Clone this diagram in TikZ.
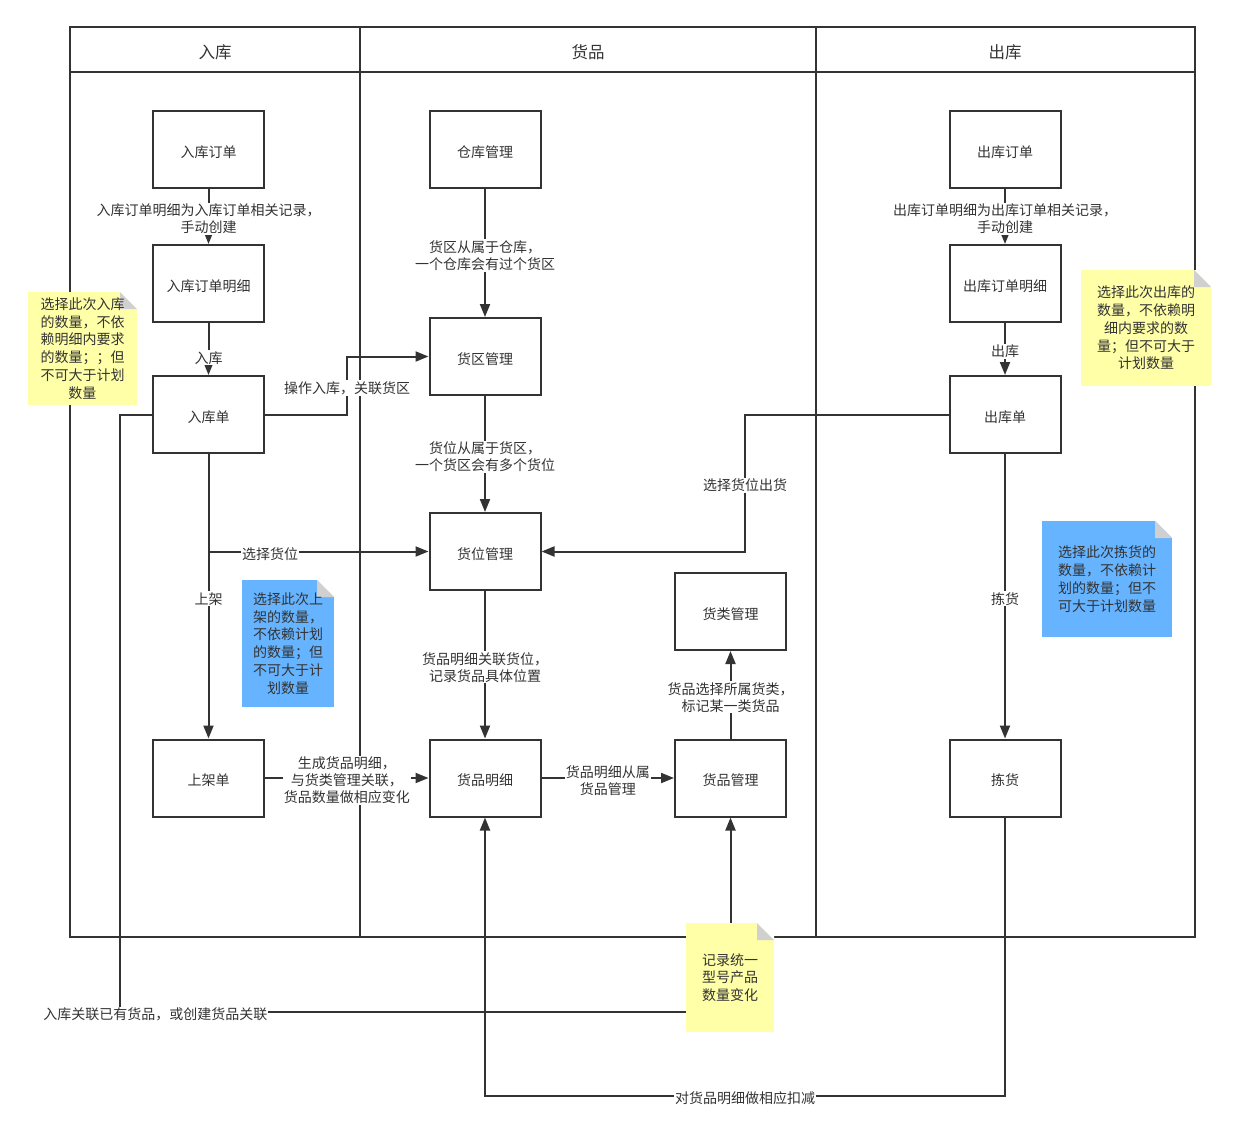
\documentclass[tikz,border=0pt]{standalone}
\usepackage{fontspec}
\setmainfont{Noto Sans CJK SC}
\usetikzlibrary{arrows.meta}

\definecolor{ink}{HTML}{333333}
\definecolor{noteyellow}{HTML}{FFFFA8}
\definecolor{noteblue}{HTML}{66B3FF}
\definecolor{foldgray}{HTML}{D0D0D0}

\begin{document}
\begin{tikzpicture}[x=1pt, y=-1pt, line width=2pt, color=ink,
    >={Triangle[length=13pt,width=10pt]},
    box/.style={draw, rectangle, minimum width=111pt, minimum height=77pt,
                text height=17pt, text depth=2pt,
                font=\fontsize{14}{17}\selectfont},
    lbl/.style={fill=white, align=center, inner sep=1pt, yshift=-2.5pt,
                font=\fontsize{14}{17}\selectfont},
    lanehead/.style={font=\fontsize{16.5}{20}\selectfont},
    note/.style={rectangle, align=center, inner sep=0pt,
                font=\fontsize{14}{17.8}\selectfont,
                path picture={
                  \fill[white] (path picture bounding box.north east) -- ++(-17pt,0) -- ++(17pt,-17pt) -- cycle;
                  \fill[foldgray] ([xshift=-17pt]path picture bounding box.north east) -- ++(0,-17pt) -- ++(17pt,0) -- cycle;}},
    yellownote/.style={note, fill=noteyellow},
    bluenote/.style={note, fill=noteblue}]

    \useasboundingbox (0,0) rectangle (1239,1124);

    % lanes
    \draw (70,27) rectangle (1195,937);
    \draw (70,72) -- (1195,72);
    \draw (360,27) -- (360,937);
    \draw (816,27) -- (816,937);
    \node [lanehead] (hrk) at (215,52.5) {入库};
    \node [lanehead] (hhp) at (588,52.5) {货品};
    \node [lanehead] (hck) at (1005,52.5) {出库};

    % boxes
    \node [box] (rkdd)   at (208.5,149.5) {入库订单};
    \node [box] (rkddmx) at (208.5,283.5) {入库订单明细};
    \node [box] (rkd)    at (208.5,414.5) {入库单};
    \node [box] (sjd)    at (208.5,778)   {上架单};
    \node [box] (ckgl)   at (485,149.5)   {仓库管理};
    \node [box] (hqgl)   at (485,356.5)   {货区管理};
    \node [box] (hwgl)   at (485,551.5)   {货位管理};
    \node [box] (hpmx)   at (485,778)     {货品明细};
    \node [box] (hlgl)   at (730.5,611.5) {货类管理};
    \node [box] (hpgl)   at (730.5,778)   {货品管理};
    \node [box] (ckdd)   at (1005,149.5)  {出库订单};
    \node [box] (ckddmx) at (1005,283.5)  {出库订单明细};
    \node [box] (ckd)    at (1005,414.5)  {出库单};
    \node [box] (jh)     at (1005,778)    {拣货};

    \coordinate (rkturn)  at (347,414.5);
    \coordinate (sjfork)  at (rkd.south |- hwgl.west);
    \coordinate (ckturn)  at (745,414.5);
    \coordinate (jhturn)  at (1005,1096);
    \coordinate (rkdown)  at (120,1012);

 \path[->]
      (rkdd) edge node [lbl] {入库订单明细为入库订单相关记录，\\手动创建} (rkddmx)
      (rkddmx) edge node [lbl, pos=0.62] {入库} (rkd)
      (rkd) edge node [lbl] {上架} (sjd)
      (ckgl) edge node [lbl] {货区从属于仓库，\\一个仓库会有过个货区} (hqgl)
      (hqgl) edge node [lbl] {货位从属于货区，\\一个货区会有多个货位} (hwgl)
      (hwgl) edge node [lbl] {货品明细关联货位，\\记录货品具体位置} (hpmx)
      (sjd) edge node [lbl] {生成货品明细，\\与货类管理关联，\\货品数量做相应变化} (hpmx)
      (hpmx) edge node [lbl] {货品明细从属\\货品管理} (hpgl)
      (hpgl) edge node [lbl] {货品选择所属货类，\\标记某一类货品} (hlgl)
      (ckdd) edge node [lbl] {出库订单明细为出库订单相关记录，\\手动创建} (ckddmx)
      (ckddmx) edge node [lbl] {出库} (ckd)
      (ckd) edge node [lbl] {拣货} (jh)
      (sjfork) edge node [lbl, pos=0.28] {选择货位} (hwgl);

    \draw[->] (rkd.east) -- (rkturn) |- node [lbl, pos=0.25] {操作入库，关联货区} (hqgl.west);
    \draw[->] (ckd.west) -- (ckturn) |- node [lbl, pos=0.25] {选择货位出货} (hwgl.east);
    \draw[->] (jh.south) -- (jhturn) -| node [lbl, pos=0.25] {对货品明细做相应扣减} (hpmx.south);
    \draw[->] (rkd.west) -| (rkdown) -| node [lbl, pos=0.029] {入库关联已有货品，或创建货品关联} (hpgl.south);

    % notes
    \node [yellownote, minimum width=109pt, minimum height=113pt] (nrk) at (82.5,348.5)
        {选择此次入库\\的数量，不依\\赖明细内要求\\的数量；；但\\不可大于计划\\数量};
    \node [bluenote, minimum width=92pt, minimum height=127pt] (nsj) at (288,643.5)
        {选择此次上\\架的数量，\\不依赖计划\\的数量；但\\不可大于计\\划数量};
    \node [yellownote, minimum width=130pt, minimum height=116pt] (nck) at (1146,328)
        {选择此次出库的\\数量，不依赖明\\细内要求的数\\量；但不可大于\\计划数量};
    \node [bluenote, minimum width=130pt, minimum height=116pt] (njh) at (1107,579)
        {选择此次拣货的\\数量，不依赖计\\划的数量；但不\\可大于计划数量};
    \node [yellownote, minimum width=88pt, minimum height=109pt] (nhp) at (730,977.5)
        {记录统一\\型号产品\\数量变化};
\end{tikzpicture}
\end{document}
